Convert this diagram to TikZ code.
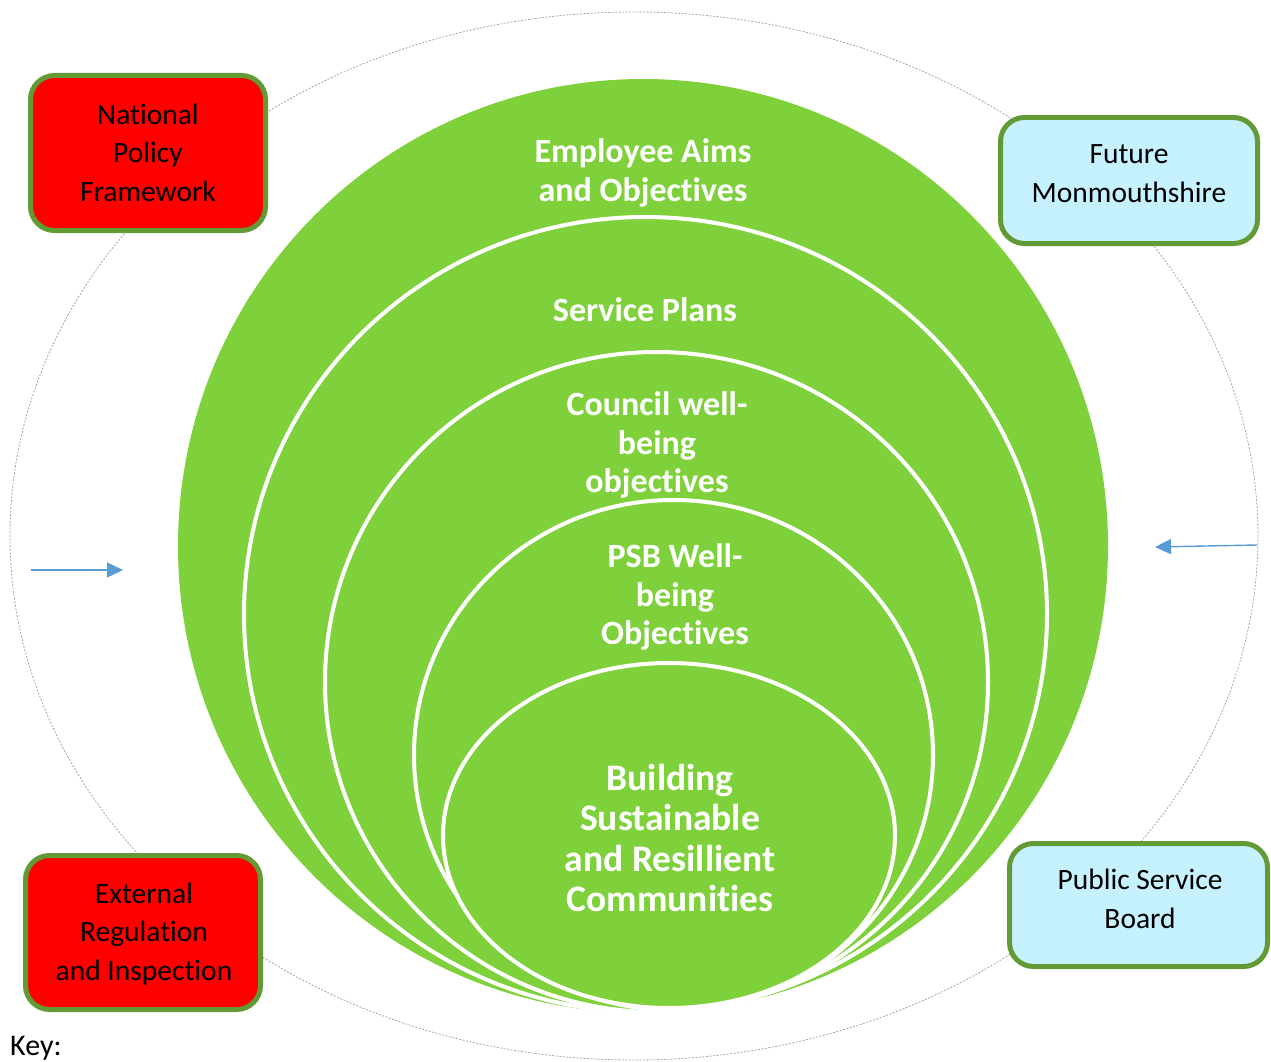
\documentclass[tikz,border=0pt]{standalone}
\usepackage{fontspec}
\setmainfont{Carlito}[Ligatures=NoCommon]
\usetikzlibrary{arrows.meta}
\definecolor{ringgreen}{HTML}{7FD13B}
\definecolor{boxborder}{HTML}{629B35}
\definecolor{boxred}{HTML}{FF0000}
\definecolor{boxblue}{HTML}{C6F2FF}
\definecolor{arrowblue}{HTML}{5B9BD5}
\definecolor{dotgray}{HTML}{A6A6A6}
\tikzset{
  ring/.style={fill=ringgreen, draw=white, line width=4pt},
  ringtext/.style={text=white, font=\fontsize{34}{38.5}\selectfont\bfseries, align=center, inner sep=0pt},
  infobox/.style={draw=boxborder, line width=5pt, rounded corners=24pt, inner sep=0pt},
  boxtext/.style={align=center, font=\fontsize{29.5}{38.5}\selectfont, inner sep=0pt},
  redbox/.style={infobox, fill=boxred},
  bluebox/.style={infobox, fill=boxblue},
  flowarrow/.style={draw=arrowblue, line width=1.4pt, -{Triangle[length=16pt,width=15pt]}},
  outerring/.style={draw=dotgray, line width=0.8pt, dash pattern=on 2pt off 1.5pt}
}
\begin{document}
\begin{tikzpicture}[x=1pt,y=-1pt]
\useasboundingbox (0,0) rectangle (1271,1062);
% dotted outer ellipse
\draw[outerring] (634,536) ellipse [x radius=624, y radius=524];
% nested green rings
\fill[ringgreen] (643,546) ellipse [x radius=465, y radius=467];
\draw[ring] (645.5,614.5) ellipse [x radius=401.5, y radius=397.5];
\draw[ring] (656.5,682) ellipse [x radius=331.5, y radius=330];
\draw[ring] (673.5,755) ellipse [x radius=259.5, y radius=255];
\draw[ring] (669,835.5) ellipse [x radius=226, y radius=172.5];
% ring texts
\node[ringtext] (emp) at (643,173) {Employee Aims\\and Objectives};
\node[ringtext] (svc) at (645,310) {Service Plans};
\node[ringtext] (cwb) at (657,445) {Council well-\\being\\objectives};
\node[ringtext] (psbo) at (675,597) {PSB Well-\\being\\Objectives};
\node[ringtext, font=\fontsize{37.5}{40.5}\selectfont\bfseries] (bsrc) at (670,838) {Building\\Sustainable\\and Resillient\\Communities};
% boxes
\node[redbox, minimum width=235pt, minimum height=155pt] (npf) at (148,153) {};
\node[boxtext] (npft) at (148,152.5) {National\\Policy\\Framework};
\node[bluebox, minimum width=257pt, minimum height=126pt] (fm) at (1129,180.5) {};
\node[boxtext] (fmt) at (1129,173.5) {Future\\Monmouthshire};
\node[redbox, minimum width=235pt, minimum height=154pt] (eri) at (143,932.5) {};
\node[boxtext] (erit) at (144,934) {External\\Regulation\\and Inspection};
\node[bluebox, minimum width=258pt, minimum height=123pt] (psb) at (1138.5,905) {};
\node[boxtext] (psbt) at (1140,899) {Public Service\\Board};
% arrows
\coordinate (lstart) at (31,570);
\coordinate (lend) at (123,570);
\coordinate (rstart) at (1257,545);
\coordinate (rend) at (1155,547);
\draw[flowarrow] (lstart) -- (lend);
\draw[flowarrow] (rstart) -- (rend);
% key
\node[anchor=base west, inner sep=0pt, font=\fontsize{30}{34}\selectfont] (key) at (10,1055) {Key:};
\end{tikzpicture}
\end{document}
